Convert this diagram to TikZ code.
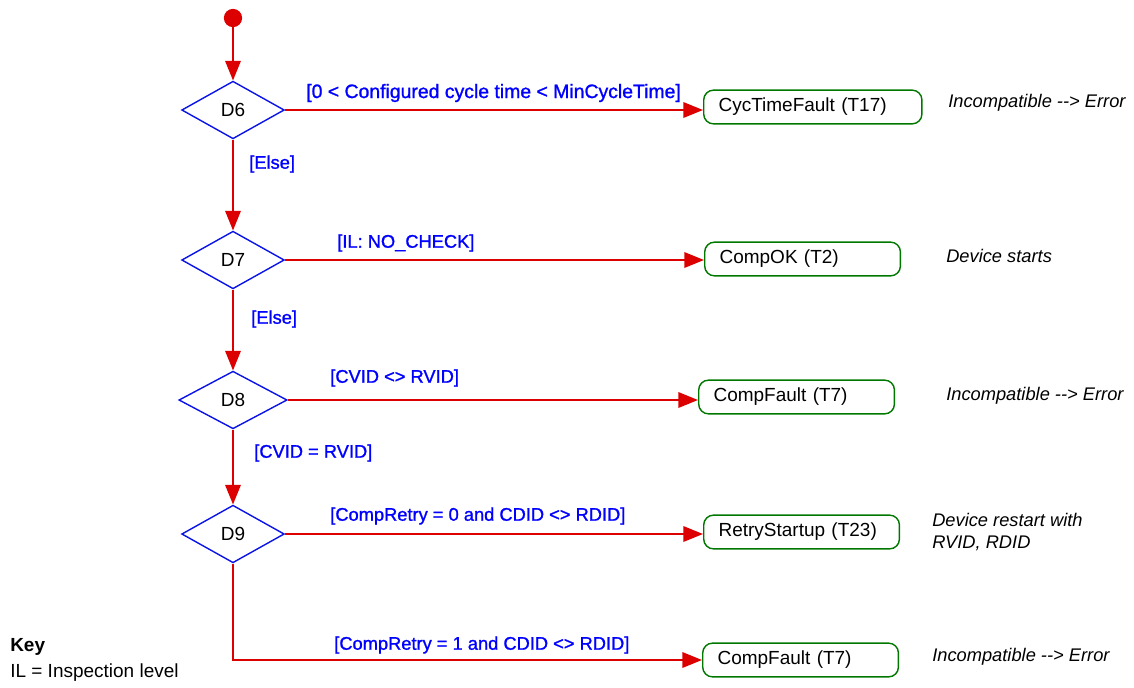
\documentclass[tikz,border=0pt]{standalone}
\usepackage{fontspec}
\setmainfont{Liberation Sans}
\newfontfamily\guardfont{Liberation Sans}[FakeBold=1.2]
\usetikzlibrary{arrows.meta,shapes.geometric}
\definecolor{flowred}{RGB}{220,0,0}
\definecolor{guardblue}{RGB}{0,0,255}
\definecolor{decblue}{RGB}{10,20,230}
\definecolor{stategreen}{RGB}{0,120,0}

\begin{document}
\begin{tikzpicture}[
  x=0.025cm,y=-0.025cm,
  font=\fontsize{13.5}{16}\selectfont,
  decision/.style={draw=decblue,line width=1pt,diamond,inner sep=0pt,minimum width=73pt,minimum height=41pt},
  state/.style={draw=stategreen,line width=1pt,rounded corners=7pt,minimum height=24pt,inner xsep=10.6pt,text width=118pt,align=left,anchor=west},
  guard/.style={text=guardblue,font=\guardfont\fontsize{13}{15}\selectfont,anchor=west,inner sep=0pt},
  note/.style={font=\fontsize{13}{16}\selectfont\itshape,anchor=west,inner sep=0pt,align=left},
  flow/.style={draw=flowred,line width=1.4pt,-{Triangle[length=14pt,width=11pt]}}
]
\useasboundingbox (0,0) rectangle (1134,687);

% decisions
\node[circle,fill=flowred,inner sep=0pt,minimum size=13pt] (start) at (233,18) {};
\node[decision] (d6) at (233,110) {D6};
\node[decision] (d7) at (233,260) {D7};
\node[decision,minimum width=77pt] (d8) at (233,400) {D8};
\node[decision] (d9) at (233,534) {D9};

% states
\node[state,text width=134pt] (cyc) at (703,107) {CycTimeFault (T17)};
\node[state] (ok) at (704,259) {CompOK (T2)};
\node[state] (fault1) at (698,397) {CompFault (T7)};
\node[state] (retry) at (703,532) {RetryStartup (T23)};
\node[state] (fault2) at (702,660) {CompFault (T7)};

% flows
\draw[flow] (start) -- (d6.north);
\draw[flow] (d6.south) -- (d7.north);
\draw[flow] (d7.south) -- (d8.north);
\draw[flow] (d8.south) -- (d9.north);
\draw[flow] (d6.east) -- (d6.east -| cyc.west);
\draw[flow] (d7.east) -- (d7.east -| ok.west);
\draw[flow] (d8.east) -- (d8.east -| fault1.west);
\draw[flow] (d9.east) -- (d9.east -| retry.west);
\draw[flow] (d9.south) |- (fault2.west);

% guards
\node[guard,font=\guardfont\fontsize{13.8}{15}\selectfont] (g6) at (306,93) {[0 < Configured cycle time < MinCycleTime]};
\node[guard] (g6e) at (249,164) {[Else]};
\node[guard] (g7) at (337,243) {[IL: NO\_CHECK]};
\node[guard] (g7e) at (251,319) {[Else]};
\node[guard] (g8) at (330,378) {[CVID <> RVID]};
\node[guard] (g8e) at (254,453) {[CVID = RVID]};
\node[guard] (g9) at (330,516) {[CompRetry = 0 and CDID <> RDID]};
\node[guard] (g9e) at (334,645) {[CompRetry = 1 and CDID <> RDID]};

% notes
\node[note] (n6) at (948,103) {Incompatible -\kern0pt-> Error};
\node[note] (n7) at (946,256) {Device starts};
\node[note] (n8) at (946,396) {Incompatible -\kern0pt-> Error};
\node[note] (n9) at (932,532) {Device restart with\\RVID, RDID};
\node[note] (n10) at (932,657) {Incompatible -\kern0pt-> Error};

% key
\node[anchor=west,inner sep=0pt,font=\fontsize{13.5}{16}\selectfont\bfseries] (key) at (10,647) {Key};
\node[anchor=west,inner sep=0pt] (keyil) at (10,673) {IL = Inspection level};
\end{tikzpicture}
\end{document}
